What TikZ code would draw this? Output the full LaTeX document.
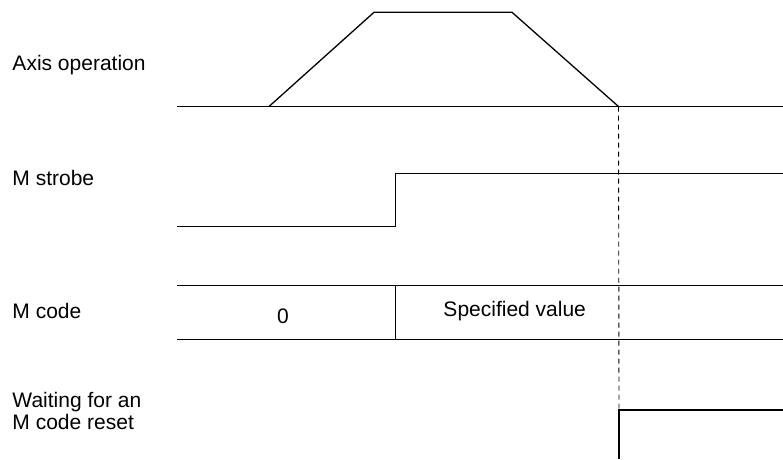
\documentclass[tikz,border=0pt]{standalone}
\usepackage{fontspec}
\setmainfont{Liberation Sans}
\tikzset{
  wave/.style={line width=1.3pt, line join=miter},
  lbl/.style={anchor=base west, inner sep=0pt, font=\fontsize{21}{21.7}\selectfont, align=left},
  val/.style={anchor=base, inner sep=0pt, font=\fontsize{21}{21.7}\selectfont},
  guide/.style={line width=0.9pt, dash pattern=on 5pt off 4pt}
}
\begin{document}
\begin{tikzpicture}[x=1pt,y=-1pt]
\useasboundingbox (0,0) rectangle (783,459);
% labels
\node[lbl] (lax) at (12.3,70) {Axis operation};
\node[lbl] (lms) at (12.3,185) {M strobe};
\node[lbl] (lmc) at (12.3,318.3) {M code};
\node[lbl, anchor=north west] (lwt) at (12.3,392) {Waiting for an\\M code reset};
% axis operation
\coordinate (a0) at (177,106.5);
\coordinate (a1) at (269,106.5);
\coordinate (a2) at (374,12.3);
\coordinate (a3) at (512,12.3);
\coordinate (a4) at (618.5,106.5);
\coordinate (a5) at (783,106.5);
\draw[wave] (a0) -- (a5);
\draw[wave] (a1) -- (a2) -- (a3) -- (a4);
% M strobe
\coordinate (s0) at (177,226.7);
\coordinate (s1) at (395.5,226.7);
\coordinate (s2) at (395.5,173.7);
\coordinate (s3) at (783,173.7);
\draw[wave] (s0) -- (s1) -- (s2) -- (s3);
% M code
\coordinate (c0) at (177,285.7);
\coordinate (c1) at (783,285.7);
\coordinate (c2) at (177,339.3);
\coordinate (c3) at (783,339.3);
\coordinate (c4) at (395.3,285.7);
\coordinate (c5) at (395.3,339.3);
\draw[wave] (c0) -- (c1);
\draw[wave] (c2) -- (c3);
\draw[wave] (c4) -- (c5);
\node[val] (v0) at (283,323.3) {0};
\node[val] (v1) at (514.7,316.7) {Specified value};
% waiting
\coordinate (w0) at (619,459);
\coordinate (w1) at (619,410);
\coordinate (w2) at (783,410);
\draw[wave] (w0) -- (w1) -- (w2);
% guide
\draw[guide] (a4) -- (w1);
\end{tikzpicture}
\end{document}
